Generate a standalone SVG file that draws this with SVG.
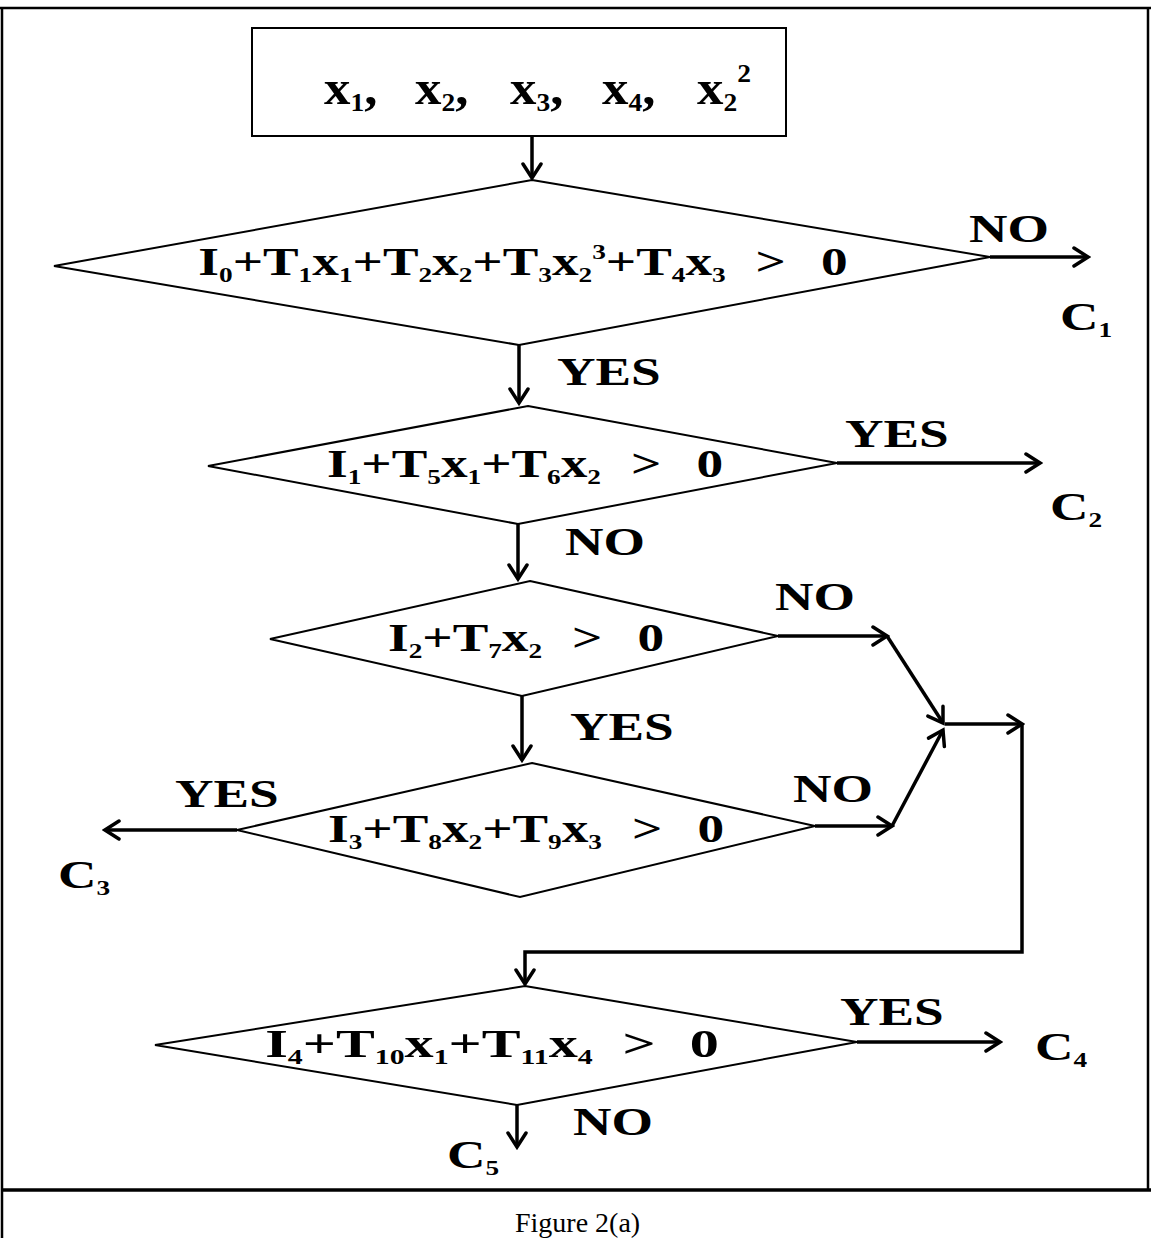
<svg xmlns="http://www.w3.org/2000/svg" width="1151" height="1238" viewBox="0 0 1151 1238">
<defs>
<style>
.b{font-family:"Liberation Serif","Times New Roman",serif;font-weight:bold;font-size:41px;fill:#000}
.s{font-size:21px}
.bx{font-family:"Liberation Serif","Times New Roman",serif;font-weight:bold;font-size:48px;fill:#000}
.bs{font-size:25px}
.cap{font-family:"Liberation Serif","Times New Roman",serif;font-size:28px;fill:#000}
.shape{fill:#fff;stroke:#000;stroke-width:2}
.con{fill:none;stroke:#000;stroke-width:3.5}
.frame{fill:none;stroke:#000;stroke-width:2.5}
</style>
<marker id="ah" markerUnits="userSpaceOnUse" viewBox="0 0 20 24" refX="17" refY="12" markerWidth="20" markerHeight="24" orient="auto">
<path d="M3,3 L17,12 L3,21" fill="none" stroke="#000" stroke-width="3.5" stroke-linecap="round" stroke-linejoin="miter"/>
</marker>
</defs>
<rect width="1151" height="1238" fill="#fff"/>
<g id="frame">
<path class="frame" d="M0,8 H1151 M2,8 V1238 M1148,8 V1190"/>
<path d="M2,1190 H1151" stroke="#000" stroke-width="3.5" fill="none"/>
</g>
<g id="connectors">
<path class="con" d="M532,136 V178" marker-end="url(#ah)"/>
<path class="con" d="M990,257 H1088" marker-end="url(#ah)"/>
<path class="con" d="M519,345 V403" marker-end="url(#ah)"/>
<path class="con" d="M837,463 H1040" marker-end="url(#ah)"/>
<path class="con" d="M518,524 V579" marker-end="url(#ah)"/>
<path class="con" d="M778,636 H887" marker-end="url(#ah)"/>
<path class="con" d="M887,636 L943,723" marker-end="url(#ah)"/>
<path class="con" d="M522,696 V760" marker-end="url(#ah)"/>
<path class="con" d="M237,830 H105" marker-end="url(#ah)"/>
<path class="con" d="M815,826 H892" marker-end="url(#ah)"/>
<path class="con" d="M892,826 L943,730" marker-end="url(#ah)"/>
<path class="con" d="M945,724 H1022" marker-end="url(#ah)"/>
<path class="con" d="M1022,724 V952 H525 V984" marker-end="url(#ah)"/>
<path class="con" d="M857,1042 H1000" marker-end="url(#ah)"/>
<path class="con" d="M517,1105 V1147" marker-end="url(#ah)"/>
</g>
<g id="inputs">
<rect class="shape" x="252" y="28" width="534" height="108"/>
<text class="bx" transform="translate(324,104) scale(1.1,1)">x<tspan class="bs" dy="7">1</tspan><tspan dy="-7">,</tspan></text>
<text class="bx" transform="translate(415,104) scale(1.1,1)">x<tspan class="bs" dy="7">2</tspan><tspan dy="-7">,</tspan></text>
<text class="bx" transform="translate(510,104) scale(1.1,1)">x<tspan class="bs" dy="7">3</tspan><tspan dy="-7">,</tspan></text>
<text class="bx" transform="translate(602,104) scale(1.1,1)">x<tspan class="bs" dy="7">4</tspan><tspan dy="-7">,</tspan></text>
<text class="bx" transform="translate(697,104) scale(1.1,1)">x<tspan class="bs" dy="7">2</tspan><tspan class="bs" dy="-29">2</tspan></text>
</g>
<g id="decision1">
<polygon class="shape" points="532,180 990,257 519,345 54,266"/>
<text class="b" text-anchor="middle" transform="translate(523,275) scale(1.3,1)">I<tspan class="s" dy="7">0</tspan><tspan dy="-7">+T</tspan><tspan class="s" dy="7">1</tspan><tspan dy="-7">x</tspan><tspan class="s" dy="7">1</tspan><tspan dy="-7">+T</tspan><tspan class="s" dy="7">2</tspan><tspan dy="-7">x</tspan><tspan class="s" dy="7">2</tspan><tspan dy="-7">+T</tspan><tspan class="s" dy="7">3</tspan><tspan dy="-7">x</tspan><tspan class="s" dy="7">2</tspan><tspan class="s" dy="-23">3</tspan><tspan dy="16">+T</tspan><tspan class="s" dy="7">4</tspan><tspan dy="-7">x</tspan><tspan class="s" dy="7">3</tspan><tspan dx="23" dy="-7">&gt;</tspan><tspan dx="27">0</tspan></text>
</g>
<g id="decision2">
<polygon class="shape" points="528,406 837,463 518,524 208,466"/>
<text class="b" text-anchor="middle" transform="translate(525,477) scale(1.3,1)">I<tspan class="s" dy="7">1</tspan><tspan dy="-7">+T</tspan><tspan class="s" dy="7">5</tspan><tspan dy="-7">x</tspan><tspan class="s" dy="7">1</tspan><tspan dy="-7">+T</tspan><tspan class="s" dy="7">6</tspan><tspan dy="-7">x</tspan><tspan class="s" dy="7">2</tspan><tspan dx="23" dy="-7">&gt;</tspan><tspan dx="27">0</tspan></text>
</g>
<g id="decision3">
<polygon class="shape" points="530,581 778,636 522,696 270,639"/>
<text class="b" text-anchor="middle" transform="translate(526,651) scale(1.3,1)">I<tspan class="s" dy="7">2</tspan><tspan dy="-7">+T</tspan><tspan class="s" dy="7">7</tspan><tspan dy="-7">x</tspan><tspan class="s" dy="7">2</tspan><tspan dx="23" dy="-7">&gt;</tspan><tspan dx="27">0</tspan></text>
</g>
<g id="decision4">
<polygon class="shape" points="532,763 815,826 520,897 237,830"/>
<text class="b" text-anchor="middle" transform="translate(526,842) scale(1.3,1)">I<tspan class="s" dy="7">3</tspan><tspan dy="-7">+T</tspan><tspan class="s" dy="7">8</tspan><tspan dy="-7">x</tspan><tspan class="s" dy="7">2</tspan><tspan dy="-7">+T</tspan><tspan class="s" dy="7">9</tspan><tspan dy="-7">x</tspan><tspan class="s" dy="7">3</tspan><tspan dx="23" dy="-7">&gt;</tspan><tspan dx="27">0</tspan></text>
</g>
<g id="decision5">
<polygon class="shape" points="525,986 857,1042 517,1105 155,1045"/>
<text class="b" text-anchor="middle" transform="translate(492,1057) scale(1.42,1)">I<tspan class="s" dy="7">4</tspan><tspan dy="-7">+T</tspan><tspan class="s" dy="7">10</tspan><tspan dy="-7">x</tspan><tspan class="s" dy="7">1</tspan><tspan dy="-7">+T</tspan><tspan class="s" dy="7">11</tspan><tspan dy="-7">x</tspan><tspan class="s" dy="7">4</tspan><tspan dx="21" dy="-7">&gt;</tspan><tspan dx="24">0</tspan></text>
</g>
<g id="labels">
<text class="b" transform="translate(969,242) scale(1.3,1)">NO</text>
<text class="b" transform="translate(557,385) scale(1.3,1)">YES</text>
<text class="b" transform="translate(845,447) scale(1.3,1)">YES</text>
<text class="b" transform="translate(565,555) scale(1.3,1)">NO</text>
<text class="b" transform="translate(775,610) scale(1.3,1)">NO</text>
<text class="b" transform="translate(570,740) scale(1.3,1)">YES</text>
<text class="b" transform="translate(175,807) scale(1.3,1)">YES</text>
<text class="b" transform="translate(793,802) scale(1.3,1)">NO</text>
<text class="b" transform="translate(840,1025) scale(1.3,1)">YES</text>
<text class="b" transform="translate(573,1135) scale(1.3,1)">NO</text>
</g>
<g id="outputs">
<text id="c1" class="b" transform="translate(1060,330) scale(1.3,1)">C<tspan class="s" dy="7">1</tspan></text>
<text id="c2" class="b" transform="translate(1050,520) scale(1.3,1)">C<tspan class="s" dy="7">2</tspan></text>
<text id="c3" class="b" transform="translate(58,888) scale(1.3,1)">C<tspan class="s" dy="7">3</tspan></text>
<text id="c4" class="b" transform="translate(1035,1060) scale(1.3,1)">C<tspan class="s" dy="7">4</tspan></text>
<text id="c5" class="b" transform="translate(447,1168) scale(1.3,1)">C<tspan class="s" dy="7">5</tspan></text>
</g>
<g id="caption">
<text class="cap" x="515" y="1232">Figure 2(a)</text>
</g>
</svg>
